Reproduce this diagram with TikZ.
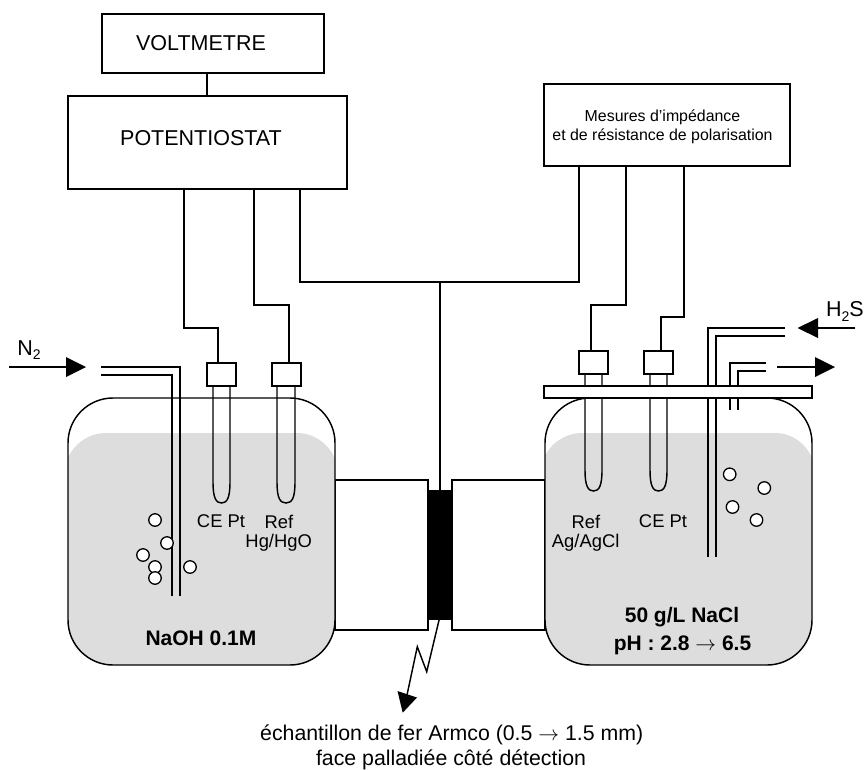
\documentclass[tikz,border=0pt]{standalone}
\usepackage{fontspec}
\setmainfont{Liberation Sans}
\usetikzlibrary{calc}
\definecolor{liquid}{HTML}{DDDDDD}
\newcommand{\subtxt}[1]{\raisebox{-0.22em}{\fontsize{14}{14}\selectfont #1}}
\newcommand{\drawtube}[5]{% x1,x2,ytop,ystart,ybot
  \draw[wire] (#1,#3) -- (#1,#4) .. controls (#1,{#5-5}) and ({#1+3},#5) .. ({(#1+#2)/2},#5)
     .. controls ({#2-3},#5) and (#2,{#5-5}) .. (#2,#4) -- (#2,#3);}
\tikzset{
  wire/.style={line width=1.45pt,line join=miter},
  box/.style={draw,line width=1.45pt,fill=white,rectangle,inner sep=0pt,outer sep=0pt},
  lab/.style={inner sep=0pt,outer sep=0pt,align=center,font=\fontsize{18.4}{21.5}\selectfont},
  big/.style={inner sep=0pt,outer sep=0pt,align=center,font=\fontsize{21.5}{25}\selectfont},
  bot/.style={inner sep=0pt,outer sep=0pt,align=center,font=\fontsize{21.3}{25}\selectfont},
  strong/.style={inner sep=0pt,outer sep=0pt,align=center,font=\fontsize{21}{28}\selectfont\bfseries},
  small/.style={inner sep=0pt,outer sep=0pt,align=center,font=\fontsize{15.9}{19}\selectfont},
  bubble/.style={circle,draw,line width=1.3pt,fill=white,minimum size=12.5pt,inner sep=0pt,outer sep=0pt},
  head/.style={fill=black,draw=none}
}
\begin{document}
\begin{tikzpicture}[x=1pt,y=-1pt]
\useasboundingbox (0,0) rectangle (864,769);
% ---------- instrument boxes
\node[box,minimum width=222pt,minimum height=59pt] (volt) at (213,43.5) {};
\node[big] (voltt) at (201,43) {VOLTMETRE};
\node[box,minimum width=279pt,minimum height=93pt] (pot) at (207.5,142.5) {};
\node[big] (pott) at (201,138) {POTENTIOSTAT};
\node[box,minimum width=246pt,minimum height=82pt] (mes) at (667,125) {};
\node[small] (mest) at (662.5,126.5) {Mesures d’impédance\\et de résistance de polarisation};
% ---------- cells between the vessels
\node[box,minimum width=93pt,minimum height=150pt] (cellL) at (381.5,555) {};
\node[box,minimum width=93pt,minimum height=150pt] (cellR) at (498.5,555) {};
% ---------- vessels
\begin{scope}
 \clip[rounded corners=45pt] (68,398) rectangle (335,665);
 \fill[liquid] (67,461) .. controls (72,445) and (88,433) .. (106,433) -- (297,433)
    .. controls (315,433) and (330,445) .. (336,461) -- (336,666) -- (67,666) -- cycle;
\end{scope}
\draw[wire,rounded corners=45pt] (68,398) rectangle (335,665);
\begin{scope}
 \clip[rounded corners=45pt] (545,398) rectangle (812,665);
 \fill[liquid] (543,461) .. controls (548,445) and (564,433) .. (582,433) -- (775,433)
    .. controls (793,433) and (808,445) .. (813,461) -- (813,666) -- (543,666) -- cycle;
\end{scope}
\draw[wire,rounded corners=45pt] (545,398) rectangle (812,665);
% ---------- sample
\node[draw=black,fill=black,minimum width=23pt,minimum height=129pt,inner sep=0pt,outer sep=0pt] (sample) at (440,554.5) {};
% ---------- electrodes, left
\drawtube{213}{230}{385}{482}{503}
\drawtube{277}{295}{385}{482}{503}
\node[box,minimum width=29pt,minimum height=23pt] (ceL) at (221.5,374.5) {};
\node[box,minimum width=29pt,minimum height=23pt] (refL) at (286.5,374.5) {};
% ---------- electrodes and tubes, right (behind the lid)
\drawtube{585}{602}{373}{470}{491}
\drawtube{650}{667}{373}{470}{491}
\draw[wire] (785,328) -- (708,328) -- (708,557);
\draw[wire] (785,336) -- (716,336) -- (716,557);
\draw[wire] (766,363) -- (730,363) -- (730,410);
\draw[wire] (766,371) -- (738,371) -- (738,410);
\node[box,minimum width=268pt,minimum height=12pt] (lid) at (678,392) {};
\node[box,minimum width=29pt,minimum height=23pt] (refR) at (593.5,362.5) {};
\node[box,minimum width=29pt,minimum height=23pt] (ceR) at (658.5,362.5) {};
% ---------- left gas tube
\draw[wire] (101,367) -- (180,367) -- (180,596);
\draw[wire] (101,375) -- (172,375) -- (172,596);
% ---------- wires
\coordinate (a1) at (184,328);
\coordinate (a2) at (218,363);
\coordinate (b1) at (254,305);
\coordinate (b2) at (289,363);
\coordinate (c1) at (300,282);
\coordinate (c2) at (579,282);
\coordinate (c3) at (440,282);
\coordinate (d1) at (626,305);
\coordinate (d2) at (591,351);
\coordinate (e1) at (684,317);
\coordinate (e2) at (661,351);
\coordinate (v1) at (207,85);
\draw[wire] (volt.south -| v1) -- (pot.north -| v1);
\draw[wire] (pot.south -| a1) -- (a1) -- (a1 -| a2) -- (a2);
\draw[wire] (pot.south -| b1) -- (b1) -- (b1 -| b2) -- (b2);
\draw[wire] (pot.south -| c1) -- (c1) -- (c2) -- (mes.south -| c2);
\draw[wire] (c3) -- (sample.north -| c3);
\draw[wire] (mes.south -| d1) -- (d1) -- (d1 -| d2) -- (d2);
\draw[wire] (mes.south -| e1) -- (e1) -- (e1 -| e2) -- (e2);
% ---------- gas arrows
\draw[wire] (9,367) -- (70,367);
\fill[head] (86,367) -- (66,357) -- (66,377) -- cycle;
\draw[wire] (855,328) -- (812,328);
\fill[head] (797.5,328) -- (818,318) -- (818,338) -- cycle;
\draw[wire] (777,367) -- (820,367);
\fill[head] (835,367) -- (815,357) -- (815,377) -- cycle;
% ---------- sample pointer
\coordinate (z1) at (426.7,671.7);
\coordinate (z2) at (417.3,646.7);
\coordinate (tip) at (402.7,712.7);
\draw[wire] (439.3,619) -- (z1) -- (z2) -- (407,695);
\fill[head] (tip) -- (397.5,691) -- (417,697.5) -- cycle;
% ---------- bubbles
\foreach \n/\x/\y in {a/155/520,b/167/543,c/143/555,d/155/567,e/155/578,f/190/567,
                      g/729.7/474.3,h/764.3/488,i/732.5/507,j/756.5/520}
  \node[bubble] (bub\n) at (\x,\y) {};
% ---------- labels
\node[lab] (l1) at (221,521.5) {CE Pt};
\node[lab] (l2) at (279,521.5) {Ref};
\node[lab] (l3) at (278.7,543) {Hg/HgO};
\node[lab] (l4) at (586,521.5) {Ref};
\node[lab] (l5) at (585.7,542.5) {Ag/AgCl};
\node[lab] (l6) at (663,521.5) {CE Pt};
\node[strong] (l7) at (201,638.7) {NaOH 0.1M};
\node[strong] (l8) at (682,617) {50 g/L NaCl};
\node[strong] (l9) at (682.5,645) {pH : 2.8 $\rightarrow$ 6.5};
\node[big] (n2) at (29,350) {N\subtxt{2}};
\node[big] (h2s) at (845,311.5) {H\subtxt{2}S};
\node[bot] (b1t) at (451.7,735) {échantillon de fer Armco (0.5 $\rightarrow$ 1.5 mm)};
\node[bot] (b2t) at (451,760) {face palladiée côté détection};
\end{tikzpicture}
\end{document}
